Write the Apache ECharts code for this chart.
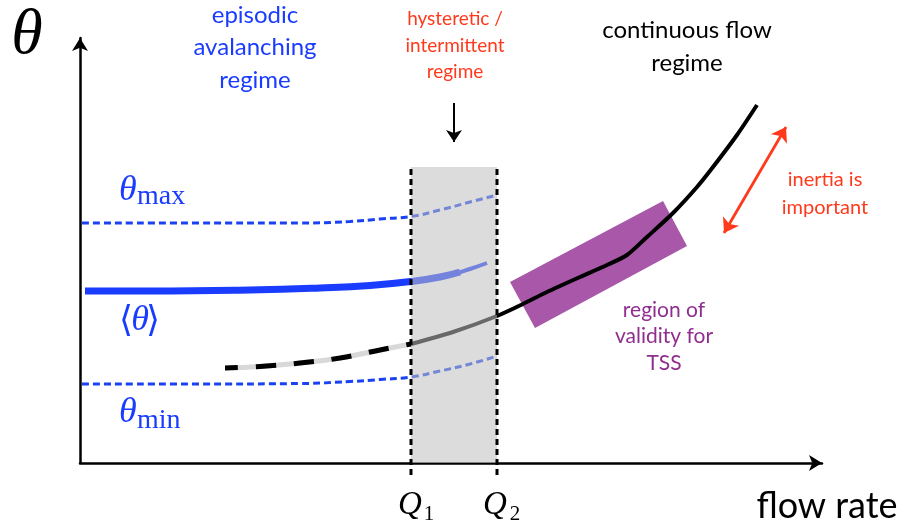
<!DOCTYPE html>
<html><head><meta charset="utf-8">
<script src="https://cdn.jsdelivr.net/npm/echarts@6/dist/echarts.min.js"></script>
<style>html,body{margin:0;padding:0;background:#fff}#c{width:910px;height:527px}</style>
</head><body><div id="c"></div>
<script>
// ---- schematic data (x: flow rate, y: theta; arbitrary units) ----
const xRange = [0, 742];
const yRange = [0, 425];
const q1 = 331, q2 = 417;
const bandTop = 296;
const qLineBottom = -12;
const thetaMax = [[2,240],[120,240],[220,240],[270,241.5],[300,244],[331,246.5],[360,253],[390,261],[417,268]];
const thetaMin = [[2,79],[120,79],[220,79.5],[270,81.5],[300,83.5],[331,86],[360,92],[390,99],[417,107]];
const thetaMean = [[5,172],[70,172],[170,173],[240,175],[290,177.5],[331,181.5],[360,186],[380,191]];
const thetaMeanTip = [[350,184],[370,188],[390,194],[407,200]];
const flowLow = [[145,95],[180,96.5],[220,100],[260,105],[300,113],[331,119]];
const flowHigh = [[331,119],[373,131],[417,147],[443,159],[467,171],[500,186],[527,198],[547,208],[567,226],[593,250],[617,276],[633,296],[657,328],[677,358]];
const tssRegion = [[430,181],[583,262],[607,217],[455,135]];
const inertiaArrow = [[644,230],[706,336]];
const regimeArrow = [[374,360],[374,321]];
const regimeLabels = ['episodic\navalanching\nregime', 'hysteretic /\nintermittent\nregime', 'continuous flow\nregime'];
const noteLabels = ['region of\nvalidity for\nTSS', 'inertia is\nimportant'];
const axisLabels = ['θ', 'flow rate'];
const qLabels = [['Q','1'],['Q','2']];
const thetaLabels = [['θ','max'],['θ','min']];

const BLUE = '#1a3cff', RED = '#ff3a1c', PURPLE = '#8f2e8f';
const SANS = 'Lato, "Open Sans", sans-serif';
const SERIF = '"Liberation Serif", "DejaVu Serif", serif';

function txt(x, y, text, size, color, opts) {
  opts = opts || {};
  return {
    type: 'text', x: x, y: y, z: 100,
    style: {
      text: text, fill: color, fontSize: size,
      fontFamily: opts.family || SANS,
      fontStyle: opts.italic ? 'italic' : 'normal',
      lineHeight: opts.lh || size * 1.2,
      align: opts.align || 'center', textAlign: opts.align || 'center',
      verticalAlign: 'middle', textVerticalAlign: 'middle'
    }
  };
}

const chart = echarts.init(document.getElementById('c'), null, {renderer: 'canvas'});

function lineS(data, color, width, extra) {
  return Object.assign({
    type: 'line', data: data, symbol: 'none', smooth: true, clip: false,
    silent: true, animation: false,
    lineStyle: {color: color, width: width, cap: 'butt'}
  }, extra || {});
}

const graphics = [
  txt(255, 47.5, regimeLabels[0], 24, BLUE, {lh: 32.5}),
  txt(455, 45.5, regimeLabels[1], 19, RED, {lh: 26.5}),
  txt(687, 46.5, regimeLabels[2], 24, '#000', {lh: 33}),
  txt(664, 336.5, noteLabels[0], 21, PURPLE, {lh: 26.5}),
  txt(825, 194, noteLabels[1], 20, RED, {lh: 28}),
  txt(827, 506, axisLabels[1], 36, '#000'),
  txt(27, 36, axisLabels[0], 64, '#000', {family: SERIF, italic: true}),
  // theta labels
  txt(119, 191, thetaLabels[0][0], 36, BLUE, {family: SERIF, italic: true, align: 'left'}),
  txt(137, 197, thetaLabels[0][1], 28, BLUE, {family: SERIF, align: 'left'}),
  txt(119, 413, thetaLabels[1][0], 36, BLUE, {family: SERIF, italic: true, align: 'left'}),
  txt(137, 421, thetaLabels[1][1], 28, BLUE, {family: SERIF, align: 'left'}),
  txt(126, 322, '⟨', 36, BLUE, {family: '"DejaVu Serif", serif'}),
  txt(140, 321, 'θ', 36, BLUE, {family: SERIF, italic: true}),
  txt(153, 322, '⟩', 36, BLUE, {family: '"DejaVu Serif", serif'}),
  // Q labels
  txt(410, 505, qLabels[0][0], 33, '#000', {family: SERIF, italic: true}),
  txt(429, 514, qLabels[0][1], 21, '#000', {family: SERIF}),
  txt(495, 505, qLabels[1][0], 33, '#000', {family: SERIF, italic: true}),
  txt(515, 514, qLabels[1][1], 21, '#000', {family: SERIF})
];

chart.setOption({
  animation: false,
  backgroundColor: '#fff',
  grid: {left: 80, right: 88, top: 38, bottom: 64},
  xAxis: {
    type: 'value', min: xRange[0], max: xRange[1],
    axisLine: {show: true, onZero: false, symbol: ['none', 'arrow'], symbolSize: [12, 13],
      lineStyle: {color: '#000', width: 2.5}},
    axisTick: {show: false}, axisLabel: {show: false}, splitLine: {show: false}
  },
  yAxis: {
    type: 'value', min: yRange[0], max: yRange[1],
    axisLine: {show: true, onZero: false, symbol: ['none', 'arrow'], symbolSize: [12, 13],
      lineStyle: {color: '#000', width: 2.5}},
    axisTick: {show: false}, axisLabel: {show: false}, splitLine: {show: false}
  },
  series: [
    {
      type: 'custom', z: 1, silent: true, data: [[0, 0]],
      renderItem: function (params, api) {
        return {type: 'polygon', shape: {points: tssRegion.map(p => api.coord(p))},
          style: {fill: '#a957a9'}};
      }
    },
    lineS(thetaMax, BLUE, 3, {z: 2, lineStyle: {color: '#1a42f2', width: 3, type: [7, 4]}}),
    lineS(thetaMin, BLUE, 3, {z: 2, lineStyle: {color: '#1a42f2', width: 3, type: [7, 4]}}),
    lineS(thetaMean, BLUE, 7, {z: 2}),
    lineS(thetaMeanTip, BLUE, 4, {z: 2}),
    lineS(flowLow, '#d8d8d8', 5, {z: 2}),
    lineS(flowLow, '#000', 5, {z: 3, lineStyle: {color: '#000', width: 5, type: [20, 18], dashOffset: 7, cap: 'butt'}}),
    lineS(flowHigh, '#000', 4, {z: 3, smooth: 0.25}),
    {
      type: 'custom', z: 5, silent: true, data: [[0, 0]],
      renderItem: function (params, api) {
        const a = api.coord([q1, bandTop]), b = api.coord([q2, 0]);
        return {type: 'rect', shape: {x: a[0], y: a[1], width: b[0] - a[0], height: b[1] - a[1]},
          style: {fill: 'rgba(192,192,192,0.55)'}};
      }
    },
    lineS([[q1, qLineBottom], [q1, bandTop]], '#000', 3, {z: 6, smooth: false, lineStyle: {color: '#000', width: 3, type: [6, 4]}}),
    lineS([[q2, qLineBottom], [q2, bandTop]], '#000', 3, {z: 6, smooth: false, lineStyle: {color: '#000', width: 3, type: [6, 4]}}),
    {
      type: 'lines', coordinateSystem: 'cartesian2d', z: 7, silent: true,
      symbol: ['arrow', 'arrow'], symbolSize: 14,
      lineStyle: {color: RED, width: 2.8, opacity: 1, curveness: 0},
      data: [{coords: inertiaArrow}]
    },
    {
      type: 'lines', coordinateSystem: 'cartesian2d', z: 7, silent: true,
      symbol: ['none', 'arrow'], symbolSize: 12,
      lineStyle: {color: '#000', width: 2, opacity: 1, curveness: 0},
      data: [{coords: regimeArrow}]
    }
  ],
  graphic: graphics
});
</script>
</body></html>
